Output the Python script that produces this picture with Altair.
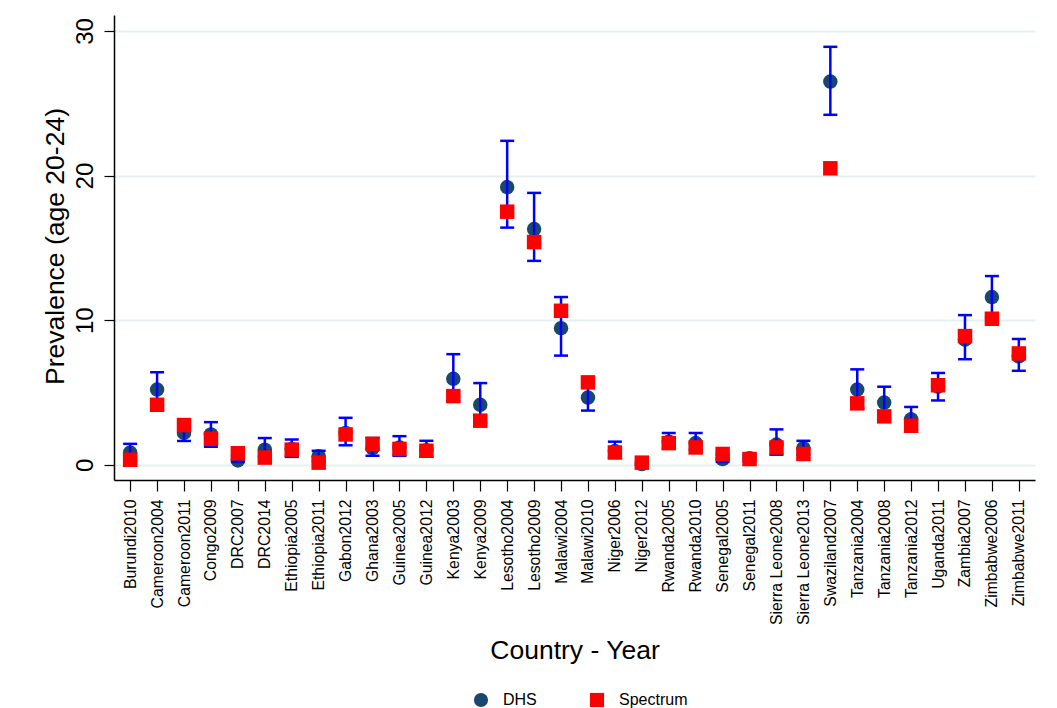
import altair as alt
import pandas as pd

categories = ["Burundi2010", "Cameroon2004", "Cameroon2011", "Congo2009", "DRC2007", "DRC2014",
              "Ethiopia2005", "Ethiopia2011", "Gabon2012", "Ghana2003", "Guinea2005", "Guinea2012",
              "Kenya2003", "Kenya2009", "Lesotho2004", "Lesotho2009", "Malawi2004", "Malawi2010",
              "Niger2006", "Niger2012", "Rwanda2005", "Rwanda2010", "Senegal2005", "Senegal2011",
              "Sierra Leone2008", "Sierra Leone2013", "Swaziland2007", "Tanzania2004", "Tanzania2008",
              "Tanzania2012", "Uganda2011", "Zambia2007", "Zimbabwe2006", "Zimbabwe2011"]

dhs = [0.85, 5.2, 2.2, 2.1, 0.3, 1.05, 1.1, 0.6, 2.2, 1.15, 1.2, 1.0, 5.95, 4.15, 19.2, 16.3,
       9.45, 4.65, 0.95, 0.05, 1.6, 1.5, 0.4, 0.45, 1.4, 1.15, 26.5, 5.2, 4.3, 3.15, 5.4, 8.65,
       11.6, 7.5]
dhs_lo = [0.3, 4.1, 1.65, 1.25, 0.2, 0.55, 0.55, 0.25, 1.35, 0.62, 0.62, 0.6, 4.4, 2.9, 16.4,
          14.1, 7.55, 3.75, 0.5, 0.0, 1.13, 1.04, 0.2, 0.25, 0.7, 0.7, 24.2, 3.9, 3.2, 2.4, 4.45,
          7.3, 10.2, 6.5]
dhs_hi = [1.45, 6.4, 2.8, 2.95, 0.6, 1.85, 1.75, 0.97, 3.25, 1.85, 1.98, 1.66, 7.65, 5.65, 22.4,
          18.8, 11.6, 5.9, 1.6, 0.2, 2.2, 2.2, 0.7, 0.7, 2.45, 1.66, 28.9, 6.6, 5.4, 4.0, 6.35,
          10.35, 13.05, 8.7]
spectrum = [0.35, 4.15, 2.75, 1.8, 0.8, 0.5, 1.05, 0.15, 2.1, 1.45, 1.1, 0.97, 4.75, 3.05, 17.5,
            15.4, 10.65, 5.7, 0.85, 0.15, 1.5, 1.2, 0.75, 0.4, 1.2, 0.75, 20.5, 4.25, 3.35, 2.7,
            5.5, 8.9, 10.1, 7.7]

series_names = ["DHS", "Spectrum"]
series_colors = ["#1a476f", "#ff0000"]
series_shapes = ["circle", "square"]

FONT = "Liberation Sans"

ci = pd.DataFrame({"cat": categories, "lo": dhs_lo, "hi": dhs_hi})
pts = pd.DataFrame({
    "cat": categories + categories,
    "series": ["DHS"] * len(categories) + ["Spectrum"] * len(categories),
    "value": dhs + spectrum,
})

x_enc = alt.X("cat:N", sort=categories,
              scale=alt.Scale(type="point", padding=0.6),
              axis=alt.Axis(title="Country - Year", labelAngle=270, labelAlign="right",
                            labelBaseline="middle", labelFontSize=15.8, labelFont=FONT,
                            labelColor="#000000", labelPadding=8, tickSize=11,
                            tickColor="#000000", domainColor="#000000", domainWidth=1.5,
                            tickWidth=1.2, titleFont=FONT, titleFontSize=26.5,
                            titleFontWeight="normal", titleColor="#000000", titleY=178,
                            titleBaseline="alphabetic", grid=False, labelOverlap=False))

y_scale = alt.Scale(domain=[-1.05, 31.1], nice=False, zero=False)
y_axis = alt.Axis(title="Prevalence (age 20-24)", values=[0, 10, 20, 30], labelAngle=270,
                  labelAlign="center", labelBaseline="alphabetic", labelFontSize=24,
                  labelFont=FONT, labelColor="#000000", labelPadding=12, tickSize=10,
                  tickColor="#000000", domainColor="#000000", domainWidth=1.5, tickWidth=1.2,
                  titleFont=FONT, titleFontSize=26.5, titleFontWeight="normal",
                  titleColor="#000000", titleAngle=270, titleAlign="center",
                  titleBaseline="alphabetic", titleX=-51, titleY=231,
                  grid=True, gridColor="#e6eff1", gridWidth=2)

color_enc = alt.Color("series:N", scale=alt.Scale(domain=series_names, range=series_colors),
                      legend=alt.Legend(title=None))
shape_enc = alt.Shape("series:N", scale=alt.Scale(domain=series_names, range=series_shapes),
                      legend=alt.Legend(title=None))

circles = alt.Chart(pts).transform_filter(alt.datum.series == "DHS").mark_point(
    filled=True, size=210, opacity=1).encode(
    x=x_enc, y=alt.Y("value:Q", scale=y_scale, axis=y_axis), color=color_enc, shape=shape_enc)

rules = alt.Chart(ci).mark_rule(color="#0000ff", strokeWidth=2.5).encode(
    x=alt.X("cat:N", sort=categories), y=alt.Y("lo:Q", scale=y_scale), y2="hi:Q")

caps_lo = alt.Chart(ci).mark_tick(color="#0000ff", size=14, thickness=2.5, opacity=1).encode(
    x=alt.X("cat:N", sort=categories), y=alt.Y("lo:Q", scale=y_scale))
caps_hi = alt.Chart(ci).mark_tick(color="#0000ff", size=14, thickness=2.5, opacity=1).encode(
    x=alt.X("cat:N", sort=categories), y=alt.Y("hi:Q", scale=y_scale))

squares = alt.Chart(pts).transform_filter(alt.datum.series == "Spectrum").mark_point(
    filled=True, size=210, opacity=1).encode(
    x=alt.X("cat:N", sort=categories), y=alt.Y("value:Q", scale=y_scale),
    color=color_enc, shape=shape_enc)

chart = alt.layer(circles, rules, caps_lo, caps_hi, squares).properties(
    width=921, height=465,
    autosize=alt.AutoSizeParams(type="none"),
    padding={"left": 114, "top": 15, "right": 22, "bottom": 228},
    background="#ffffff",
).configure_view(stroke=None).configure_legend(
    orient="none", legendX=359, legendY=677, direction="horizontal",
    symbolSize=200, symbolStrokeWidth=0, symbolOpacity=1,
    labelFont=FONT, labelFontSize=16, labelColor="#000000",
    labelOffset=14, columnPadding=52,
)

chart.save("out.html", embed_options={"renderer": "svg", "actions": False})
